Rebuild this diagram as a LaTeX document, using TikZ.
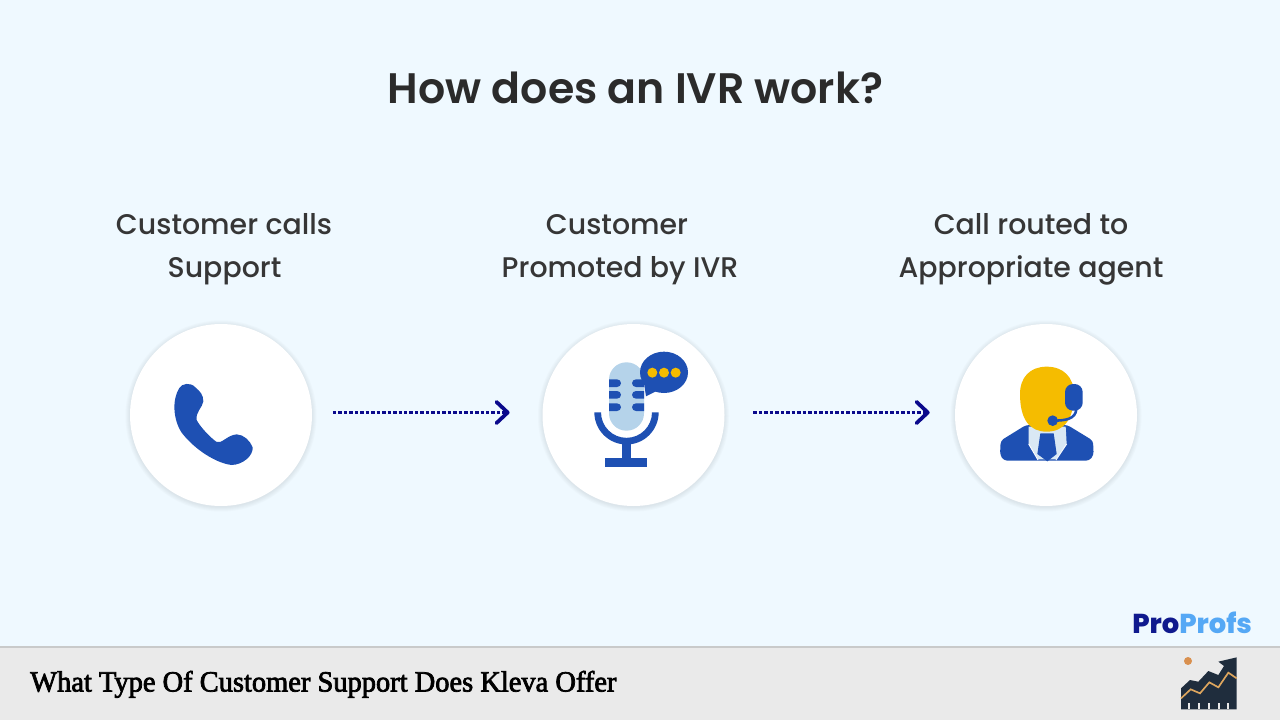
\documentclass[tikz,border=0pt]{standalone}
\usepackage{fontspec}
\usetikzlibrary{arrows.meta}
\setmainfont{Poppins}
\newfontfamily\titlefont{Poppins SemiBold}
\newfontfamily\labelfont{Poppins Medium}
\newfontfamily\brandfont{Poppins ExtraBold}
\newfontfamily\footfont{Liberation Serif}[FakeBold=2.5,FakeStretch=0.97]
\definecolor{pagebg}{HTML}{EFF9FF}
\definecolor{footbg}{HTML}{EAEAEA}
\definecolor{footline}{HTML}{C9CACA}
\definecolor{ink}{HTML}{2B2B2B}
\definecolor{labelink}{HTML}{363636}
\definecolor{iconblue}{HTML}{1E50B3}
\definecolor{micblue}{HTML}{B5D3EA}
\definecolor{gold}{HTML}{F5BC00}
\definecolor{collar}{HTML}{D9E8F4}
\definecolor{arrowblue}{HTML}{0B0A8C}
\definecolor{brandnavy}{HTML}{101A8E}
\definecolor{brandsky}{HTML}{55A8F5}
\definecolor{chartdark}{HTML}{1F2D3D}
\definecolor{chartgold}{HTML}{DDA65E}
\definecolor{chartdot}{HTML}{D9904F}
\tikzset{
  x=0.75pt, y=-0.75pt,
  disc/.style={circle, fill=white, minimum size=136.5pt, inner sep=0pt},
  flow/.style={arrowblue, line width=2.4pt, dash pattern=on 2.6pt off 1.5pt,
    -{Straight Barb[length=8.5pt,width=16pt,line width=2.8pt,round]}},
  heading/.style={font=\titlefont\fontsize{32}{36}\selectfont, text=ink, anchor=base, inner sep=0pt},
  steplabel/.style={font=\labelfont\fontsize{21.3}{25}\selectfont, text=labelink, anchor=base, inner sep=0pt},
  icon/.style={x=0.25pt, y=-0.25pt},
}
\newcommand{\softshadow}[1]{%
  \foreach \g in {5,4,3,2,1}{\fill[black!30!pagebg, opacity=0.05] (#1) ++(0,1) circle ({90.5+\g});}%
}
\begin{document}
\begin{tikzpicture}
\useasboundingbox (0,0) rectangle (1280,720);
\fill[pagebg] (0,0) rectangle (1280,720);
\fill[footbg] (0,647) rectangle (1280,720);
\draw[footline, line width=1.4pt] (0,647) -- (1280,647);

% heading and step captions
\node[heading] (title) at (635.5,103.5) {How does an IVR work?};
\node[steplabel] (a1) at (224,234) {Customer calls};
\node[steplabel] (a2) at (224.5,277) {Support};
\node[steplabel] (b1) at (617,234) {Customer};
\node[steplabel] (b2) at (620,277) {Promoted by IVR};
\node[steplabel] (c1) at (1031,234) {Call routed to};
\node[steplabel] (c2) at (1031,277) {Appropriate agent};

% step discs
\softshadow{221,415}
\softshadow{633.5,415}
\softshadow{1046,415}
\node[disc] (d1) at (221,415) {};
\node[disc] (d2) at (633.5,415) {};
\node[disc] (d3) at (1046,415) {};

% connectors between the steps
\coordinate (l1) at (d1.east |- 0,412.5);
\coordinate (r1) at (d2.west |- 0,412.5);
\coordinate (l2) at (d2.east |- 0,412.5);
\coordinate (r2) at (d3.west |- 0,412.5);
\draw[flow, shorten <=15.5pt, shorten >=24.5pt] (l1) -- (r1);
\draw[flow, shorten <=21.5pt, shorten >=18.8pt] (l2) -- (r2);

% telephone handset
\begin{scope}[shift={(120,310)}, icon]
\fill[iconblue] (178,234) .. controls (186,220) and (212,216) .. (226,232)
  .. controls (240,244) and (250,254) .. (250,274)
  .. controls (248,292) and (226,306) .. (230,330)
  .. controls (240,350) and (270,382) .. (290,396)
  .. controls (306,402) and (320,376) .. (350,373)
  .. controls (372,374) and (390,392) .. (398,412)
  .. controls (400,436) and (370,464) .. (335,465)
  .. controls (290,460) and (225,420) .. (185,368)
  .. controls (160,330) and (155,270) .. (178,234) -- cycle;
\end{scope}

% microphone with speech bubble
\begin{scope}[shift={(540,320)}, icon]
\fill[micblue, rounded corners=13pt] (207,127) rectangle (312,332);
\foreach \yy in {178,213,250}{
  \fill[iconblue] (207,\yy) -- (231,\yy) arc[start angle=-90,end angle=90,x radius=12,y radius=11.5] -- (207,\yy+23) -- cycle;
  \fill[iconblue] (312,\yy) -- (288,\yy) arc[start angle=270,end angle=90,x radius=12,y radius=11.5] -- (312,\yy+23) -- cycle;
}
\fill[iconblue] (163,277) -- (183,277)
  arc[start angle=180,end angle=0,radius=76.5] -- (356,277)
  arc[start angle=0,end angle=180,radius=96.5] -- cycle;
\fill[iconblue] (247,360) rectangle (272,416);
\fill[iconblue] (194,414) rectangle (321,442);
\fill[iconblue] (372,157) ellipse [x radius=72, y radius=62];
\fill[iconblue] (312,190) -- (318,229) -- (352,212) -- cycle;
\foreach \xx in {337,372,407}{\fill[gold] (\xx,158) circle (15);}
\end{scope}

% agent with headset
\begin{scope}[shift={(950,320)}, icon]
\fill[iconblue, rounded corners=2.5pt]
  (228,315) -- (152,362) -- (150,405) -- (162,422) -- (418,422) -- (431,405) -- (429,362) -- (352,315) -- cycle;
\fill[collar] (236,320) -- (347,320) -- (350,372) -- (318,418) -- (264,418) -- (236,372) -- cycle;
\draw[white, line width=0.7pt] (236,372) -- (264,420) (350,372) -- (318,420);
\fill[iconblue] (271,340) -- (311,340) -- (320,402) -- (292,424) -- (262,402) -- cycle;
\fill[gold] (290,140) .. controls (340,140) and (372,172) .. (372,222)
  .. controls (372,300) and (340,335) .. (290,335)
  .. controls (240,335) and (210,300) .. (210,222)
  .. controls (210,172) and (240,140) .. (290,140) -- cycle;
\fill[iconblue, rounded corners=6pt] (345,192) rectangle (398,272);
\draw[iconblue, line width=1.9pt] (379,268) .. controls (376,296) and (350,302) .. (308,302);
\fill[iconblue] (308,302) circle (16);
\end{scope}

% brand mark
\node[font=\brandfont\fontsize{20.5}{25}\selectfont, anchor=base west, inner sep=0pt] (brand) at (1132,633)
  {\textcolor{brandnavy}{Pro}\textcolor{brandsky}{Profs}};

% footer caption
\node[font=\footfont\fontsize{22}{25}\selectfont, text=black, anchor=base west, inner sep=0pt] (foot) at (30,691.5)
  {What Type Of Customer Support Does Kleva Offer};

% rising-chart emblem
\begin{scope}[shift={(1120,600)}, icon]
\fill[chartdark] (183,265) -- (210,240) -- (235,245) -- (265,213) -- (295,225) -- (312,198)
  -- (295,185) -- (350,172) -- (350,328) -- (183,328) -- cycle;
\foreach \xx in {208,238,267,296,325}{\fill[footbg] (\xx-3,310) rectangle (\xx+3,328);}
\draw[chartgold, line width=1.25pt] (183,295) -- (212,268) -- (240,280) -- (268,247) -- (295,262) -- (325,218) -- (350,235);
\fill[chartdot] (204,183) circle (12);
\end{scope}
\end{tikzpicture}
\end{document}
